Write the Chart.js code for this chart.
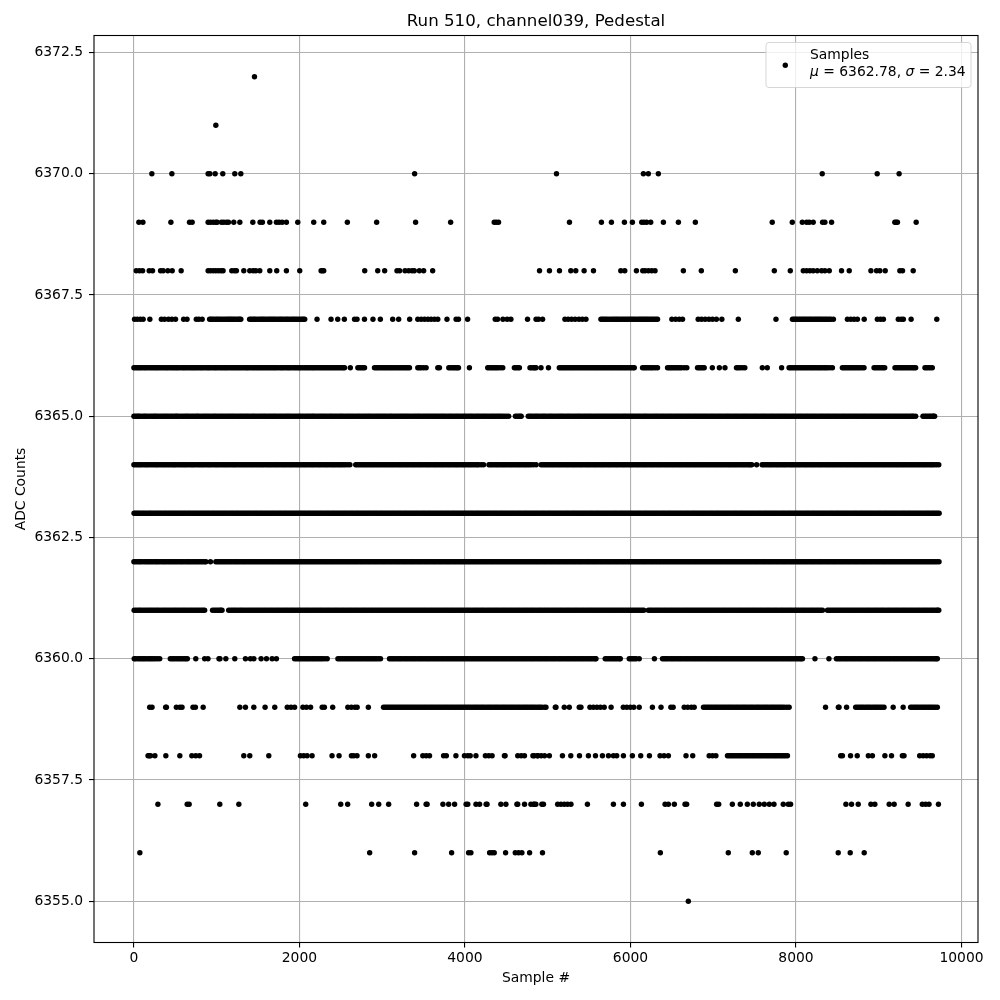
<!DOCTYPE html>
<html><head><meta charset="utf-8">
<style>html,body{margin:0;padding:0;background:#fff}canvas{display:block}</style>
<script src="https://cdn.jsdelivr.net/npm/chart.js@4/dist/chart.umd.js"></script>
</head><body><canvas id="c" width="1000" height="1000"></canvas>
<script>
const titleText = 'Run 510, channel039, Pedestal';
const xTitle = 'Sample #';
const yTitle = 'ADC Counts';
const legendName = 'Samples';
const xTicks = [0,2000,4000,6000,8000,10000];
const yTicks = [6355,6357.5,6360,6362.5,6365,6367.5,6370,6372.5];
const r72 = [1457];
const r71 = [990];
const r70 = [217,459,897,918,982,1074,1219,1292,3392,5106,6156,6216,6337,8317,8981,9246];
const r69 = [60,109,447,672,704,897,925,958,990,1006,1058,1086,1119,1143,1207,1280,1437,1525,1553,1642,1722,1754,1791,1843,1980,2173,2294,2579,2933,3404,3827,4354,4378,4406,5263,5649,5770,5927,6023,6136,6164,6196,6245,6398,6579,6784,7713,7955,8076,8128,8160,8208,8321,8349,8430,9194,9210,9226,9452];
const r68 = [28,68,105,185,225,322,354,410,463,571,897,925,958,990,1022,1054,1078,1183,1215,1239,1328,1400,1441,1473,1521,1642,1726,1843,2004,2262,2278,2294,2789,2946,3030,3179,3211,3276,3320,3360,3388,3449,3501,3610,4901,5021,5142,5279,5339,5440,5553,5883,5931,6072,6148,6176,6216,6257,6297,6639,6856,7267,7738,7931,8088,8128,8168,8208,8257,8309,8349,8402,8550,8643,8905,8973,9013,9078,9255,9287,9416];
const r67 = [8,41,78,112,193,332,371,418,459,503,601,642,754,785,825,915,948,991,1027,1068,1112,1149,1183,1221,1262,1292,1398,1437,1472,1516,1553,1592,1634,1671,1708,1752,1789,1831,1868,1912,1949,1991,2032,2064,2213,2382,2463,2543,2666,2696,2786,2889,2978,3127,3199,3332,3430,3471,3512,3553,3591,3632,3672,3783,3893,3922,4032,4366,4394,4459,4510,4555,4756,4859,4889,4938,5208,5247,5289,5331,5378,5419,5462,5643,5682,5721,5768,5809,5846,5888,5931,5972,6011,6052,6096,6133,6171,6208,6249,6288,6327,6500,6546,6589,6629,6818,6859,6902,6948,6991,7038,7104,7303,7758,7957,7992,8033,8071,8109,8148,8186,8227,8264,8302,8343,8381,8422,8452,8621,8662,8702,8742,8824,8983,9021,9056,9236,9271,9297,9391,9701];
const r67b = [931,969,1009,1048,1090,1131,1166,1202,1241,1277,1417,1454,1494,1535,1572,1613,1652,1690,1730,1770,1810,1850,1890,1930,1970,2012,2048,5662,5702,5745,5789,5828,5867,5910,5952,5992,6032,6074,6115,6152,6190,6229,6268,6308,7975,8012,8052,8090,8128,8167,8206,8245,8283,8322,8362,8402];
const r66 = [0,41,79,124,163,208,251,289,332,378,417,462,503,541,588,627,672,714,753,798,836,883,921,968,1006,1052,1093,1131,1176,1218,1259,1301,1346,1383,1429,1471,1512,1554,1597,1639,1682,1721,1768,1807,1853,1891,1937,1979,2018,2064,2106,2149,2187,2232,2274,2316,2359,2401,2443,2487,2528,2545,2615,2706,2747,2787,2907,2948,2992,3034,3076,3118,3161,3204,3247,3289,3330,3430,3472,3531,3672,3692,3805,3848,3889,3922,4054,4275,4318,4361,4402,4457,4597,4640,4658,4786,4828,4859,4919,5009,5140,5183,5224,5268,5309,5352,5394,5437,5479,5522,5564,5606,5648,5691,5733,5776,5818,5861,5903,5945,5988,6030,6046,6146,6188,6231,6273,6327,6448,6490,6533,6576,6618,6681,6810,6851,6891,6989,7074,7142,7281,7324,7382,7593,7653,7826,7916,7958,8001,8043,8086,8128,8171,8213,8256,8298,8341,8383,8440,8560,8602,8645,8688,8731,8774,8822,8943,8987,9030,9072,9196,9239,9281,9324,9367,9410,9446,9558,9601,9647];
const r66b = [20,60,101,143,186,229,270,310,355,397,440,482,522,565,607,650,693,733,775,817,860,902,945,987,1029,1072,1112,1154,1197,1238,1280,1324,1365,1406,1450,1491,1533,1575,1618,1660,1701,1744,1787,1830,1872,1914,1958,1998,2041,2085,2127,2168,2210,2253,2295,2337,2380,2422,2465,2508,2727,2767,2928,2970,3013,3055,3097,3139,3182,3225,3268,3310,3451,3501,3825,3868,3905,4296,4339,4381,4430,4618,4807,4843,5161,5203,5246,5288,5330,5373,5415,5458,5500,5543,5585,5627,5670,5712,5754,5797,5840,5882,5924,5966,6009,6167,6209,6252,6300,6469,6511,6554,6597,6650,6830,6871,7302,7353,7937,7980,8022,8064,8107,8149,8192,8234,8277,8319,8362,8411,8581,8623,8666,8709,8752,8798,8965,9008,9051,9217,9260,9302,9345,9388,9428,9579,9624];
const r65 = [0,38,71,118,154,201,243,279,327,368,409,452,497,531,578,622,659,704,748,783,829,871,912,958,996,1041,1083,1127,1169,1208,1253,1296,1338,1379,1424,1462,1509,1551,1592,1637,1679,1718,1764,1806,1849,1887,1933,1978,2017,2061,2104,2146,2183,2229,2271,2312,2358,2397,2441,2486,2523,2569,2611,2652,2698,2737,2782,2824,2863,2908,2951,2993,3034,3079,3118,3163,3207,3248,3289,3331,3376,3418,3457,3502,3544,3586,3627,3671,3713,3752,3798,3839,3883,3924,3968,4009,4052,4093,4137,4178,4221,4263,4306,4349,4391,4432,4476,4528,4610,4650,4680,4765,4804,4849,4888,4933,4972,5018,5057,5103,5146,5184,5229,5268,5313,5357,5396,5441,5483,5522,5568,5609,5651,5693,5736,5778,5821,5862,5907,5946,5991,6031,6074,6116,6161,6199,6244,6287,6328,6372,6413,6456,6497,6541,6583,6624,6668,6709,6753,6794,6838,6879,6922,6966,7007,7051,7092,7136,7177,7219,7263,7304,7348,7389,7432,7476,7517,7561,7602,7644,7688,7729,7773,7814,7857,7899,7943,7984,8028,8069,8112,8154,8197,8239,8283,8324,8367,8409,8452,8494,8538,8579,8622,8664,8707,8749,8793,8834,8877,8919,8962,9004,9048,9089,9132,9174,9217,9259,9303,9344,9387,9420,9446,9534,9573,9612,9650,9675];
const r65b = [19,55,95,136,178,222,261,303,348,389,431,474,514,555,600,641,682,726,766,806,850,892,935,977,1019,1062,1105,1148,1189,1231,1275,1317,1359,1401,1443,1486,1530,1572,1615,1658,1698,1741,1785,1828,1868,1910,1956,1998,2039,2083,2125,2165,2206,2250,2292,2335,2378,2419,2464,2505,2546,2590,2632,2675,2718,2760,2803,2844,2886,2930,2972,3014,3057,3099,3141,3185,3228,3269,3310,3354,3397,3438,3480,3523,3565,3607,3649,3692,3733,3775,3819,3861,3904,3946,3989,4031,4073,4115,4158,4200,4242,4285,4328,4370,4412,4454,4502,4630,4665,4785,4827,4869,4911,4953,4995,5038,5080,5125,5165,5207,5249,5291,5335,5377,5419,5462,5503,5545,5589,5630,5672,5715,5757,5800,5842,5885,5927,5969,6012,6053,6095,6139,6180,6222,6266,6308,6350,6392,6435,6477,6519,6562,6604,6646,6689,6731,6774,6816,6859,6901,6944,6986,7029,7072,7114,7157,7198,7241,7284,7326,7369,7410,7454,7497,7539,7582,7623,7666,7709,7751,7794,7836,7878,7921,7964,8006,8049,8090,8133,8176,8218,8261,8304,8346,8388,8431,8473,8516,8559,8601,8643,8686,8728,8771,8814,8856,8898,8941,8983,9026,9069,9111,9153,9196,9238,9281,9324,9366,9404,9555,9593,9631,9662];
const r64 = [0,43,82,129,168,212,257,296,341,383,426,471,509,556,597,638,684,723,769,811,852,897,936,983,1022,1067,1110,1151,1196,1234,1281,1322,1364,1408,1449,1492,1536,1576,1621,1662,1706,1747,1791,1832,1876,1917,1961,2002,2046,2087,2131,2172,2216,2257,2301,2342,2386,2427,2471,2512,2556,2610,2680,2722,2766,2807,2851,2892,2936,2977,3021,3062,3106,3147,3191,3232,3276,3317,3361,3402,3446,3487,3531,3572,3616,3657,3701,3742,3786,3827,3871,3912,3956,3997,4041,4082,4126,4167,4225,4290,4331,4375,4416,4460,4501,4545,4586,4630,4671,4715,4756,4800,4860,4920,4966,5007,5051,5092,5136,5177,5221,5262,5306,5347,5391,5432,5476,5517,5561,5602,5646,5687,5731,5772,5816,5857,5901,5942,5986,6027,6071,6112,6156,6197,6241,6282,6326,6367,6411,6452,6496,6537,6581,6622,6666,6707,6751,6792,6836,6877,6921,6962,7006,7047,7091,7132,7176,7217,7261,7302,7346,7387,7431,7465,7524,7590,7632,7676,7717,7761,7802,7846,7887,7931,7972,8016,8057,8101,8142,8186,8227,8271,8312,8356,8397,8441,8482,8526,8567,8611,8652,8696,8737,8781,8822,8866,8907,8951,8992,9036,9077,9121,9162,9206,9247,9291,9332,9376,9417,9461,9502,9546,9587,9631,9672,9725];
const r64b = [22,63,105,149,190,235,277,319,362,405,449,490,533,577,618,661,704,746,790,832,875,917,960,1003,1045,1089,1131,1174,1215,1258,1302,1343,1386,1429,1471,1514,1556,1599,1642,1684,1727,1769,1812,1854,1897,1939,1982,2024,2067,2109,2152,2194,2237,2279,2322,2364,2407,2449,2492,2534,2583,2700,2744,2787,2829,2872,2914,2957,2999,3042,3084,3127,3169,3212,3254,3297,3339,3382,3424,3467,3509,3552,3594,3637,3679,3722,3764,3807,3849,3892,3934,3977,4019,4062,4104,4147,4196,4310,4353,4395,4438,4480,4523,4565,4608,4650,4693,4735,4778,4828,4943,4986,5029,5071,5114,5156,5199,5241,5284,5326,5369,5411,5454,5496,5539,5581,5624,5666,5709,5751,5794,5836,5879,5921,5964,6006,6049,6091,6134,6176,6219,6261,6304,6346,6389,6431,6474,6516,6559,6601,6644,6686,6729,6771,6814,6856,6899,6941,6984,7026,7069,7111,7154,7196,7239,7281,7324,7366,7409,7448,7610,7654,7696,7739,7781,7824,7866,7909,7951,7994,8036,8079,8121,8164,8206,8249,8291,8334,8376,8419,8461,8504,8546,8589,8631,8674,8716,8759,8801,8844,8886,8929,8971,9014,9056,9099,9141,9184,9226,9269,9311,9354,9396,9439,9481,9524,9566,9609,9651,9698];
const r63 = [2,36,69,107,142,181,214,252,288,323,361,396,433,469,505,542,578,614,651,686,723,759,795,832,868,903,941,976,1012,1049,1085,1121,1158,1193,1231,1266,1302,1339,1375,1411,1448,1483,1521,1556,1592,1629,1665,1701,1738,1773,1811,1846,1882,1919,1955,1991,2028,2063,2101,2136,2172,2209,2245,2281,2318,2353,2391,2426,2462,2499,2535,2571,2608,2643,2681,2716,2752,2789,2825,2861,2898,2933,2971,3006,3042,3079,3115,3151,3188,3223,3261,3296,3332,3369,3405,3441,3478,3513,3551,3586,3622,3659,3695,3731,3768,3803,3841,3876,3912,3949,3985,4021,4058,4093,4131,4166,4202,4239,4275,4311,4348,4383,4421,4456,4492,4529,4565,4601,4638,4673,4711,4746,4782,4819,4855,4891,4928,4963,5001,5036,5072,5109,5145,5181,5218,5253,5291,5326,5362,5399,5435,5471,5508,5543,5581,5616,5652,5689,5725,5761,5798,5833,5871,5906,5942,5979,6015,6051,6088,6123,6161,6196,6232,6269,6305,6341,6378,6413,6451,6486,6522,6559,6595,6631,6668,6703,6741,6776,6812,6849,6885,6921,6958,6993,7031,7066,7102,7139,7175,7211,7248,7283,7321,7356,7392,7429,7465,7501,7538,7573,7611,7646,7682,7719,7755,7791,7828,7863,7901,7936,7972,8009,8045,8081,8118,8153,8191,8226,8262,8299,8335,8371,8408,8443,8481,8516,8552,8589,8625,8661,8698,8733,8771,8806,8842,8879,8915,8951,8988,9023,9061,9096,9132,9169,9205,9241,9278,9313,9351,9386,9422,9459,9495,9531,9568,9603,9641,9676,9712,9730];
const r63b = [18,52,88,124,161,197,233,270,306,342,378,415,451,487,524,560,596,632,669,705,741,777,814,850,886,922,958,994,1031,1067,1103,1139,1176,1212,1248,1284,1321,1357,1393,1430,1466,1502,1538,1574,1611,1647,1683,1720,1756,1792,1828,1864,1901,1937,1973,2010,2046,2082,2118,2154,2191,2227,2263,2300,2336,2372,2408,2444,2481,2517,2553,2590,2626,2662,2698,2734,2771,2807,2843,2880,2916,2952,2988,3024,3061,3097,3133,3170,3206,3242,3278,3314,3351,3387,3423,3460,3496,3532,3568,3604,3641,3677,3713,3750,3786,3822,3858,3894,3931,3967,4003,4040,4076,4112,4148,4184,4221,4257,4293,4330,4366,4402,4438,4474,4511,4547,4583,4620,4656,4692,4728,4764,4801,4837,4873,4910,4946,4982,5018,5054,5091,5127,5163,5200,5236,5272,5308,5344,5381,5417,5453,5490,5526,5562,5598,5634,5671,5707,5743,5780,5816,5852,5888,5924,5961,5997,6033,6070,6106,6142,6178,6214,6251,6287,6323,6360,6396,6432,6468,6504,6541,6577,6613,6650,6686,6722,6758,6794,6831,6867,6903,6940,6976,7012,7048,7084,7121,7157,7193,7230,7266,7302,7338,7374,7411,7447,7483,7520,7556,7592,7628,7664,7701,7737,7773,7810,7846,7882,7918,7954,7991,8027,8063,8100,8136,8172,8208,8244,8281,8317,8353,8390,8426,8462,8498,8534,8571,8607,8643,8680,8716,8752,8788,8824,8861,8897,8933,8970,9006,9042,9078,9114,9151,9187,9223,9260,9296,9332,9368,9404,9441,9477,9513,9550,9586,9622,9658,9694];
const r62 = [0,44,83,131,172,214,259,298,344,385,429,471,513,558,597,643,684,727,769,812,855,925,990,1033,1076,1118,1161,1204,1246,1289,1331,1374,1416,1459,1501,1544,1586,1629,1671,1714,1756,1799,1841,1884,1926,1969,2011,2054,2096,2139,2181,2224,2266,2309,2351,2394,2436,2479,2521,2564,2606,2649,2691,2734,2776,2819,2861,2904,2946,2989,3031,3074,3116,3159,3201,3244,3286,3329,3371,3414,3456,3499,3541,3584,3626,3669,3711,3754,3796,3839,3881,3924,3966,4009,4051,4094,4136,4179,4221,4264,4306,4349,4391,4434,4476,4519,4561,4604,4646,4689,4731,4774,4816,4859,4901,4944,4986,5029,5071,5114,5156,5199,5241,5284,5326,5369,5411,5454,5496,5539,5581,5624,5666,5709,5751,5794,5836,5879,5921,5964,6006,6049,6091,6134,6176,6219,6261,6304,6346,6389,6431,6474,6516,6559,6601,6644,6686,6729,6771,6814,6856,6899,6941,6984,7026,7069,7111,7154,7196,7239,7281,7324,7366,7409,7451,7494,7536,7579,7621,7664,7706,7749,7791,7834,7876,7919,7961,8004,8046,8089,8131,8174,8216,8259,8301,8344,8386,8429,8471,8514,8556,8599,8641,8684,8726,8769,8811,8854,8896,8939,8981,9024,9066,9109,9151,9194,9236,9279,9321,9364,9406,9449,9491,9534,9576,9619,9661,9704,9728];
const r62b = [22,64,107,151,193,236,278,321,364,407,449,492,534,577,620,663,705,748,790,833,870,1011,1054,1097,1139,1182,1225,1267,1310,1352,1395,1437,1480,1522,1565,1607,1650,1692,1735,1777,1820,1862,1905,1947,1990,2032,2075,2117,2160,2202,2245,2287,2330,2372,2415,2457,2500,2542,2585,2627,2670,2712,2755,2797,2840,2882,2925,2967,3010,3052,3095,3137,3180,3222,3265,3307,3350,3392,3435,3477,3520,3562,3605,3647,3690,3732,3775,3817,3860,3902,3945,3987,4030,4072,4115,4157,4200,4242,4285,4327,4370,4412,4455,4497,4540,4582,4625,4667,4710,4752,4795,4837,4880,4922,4965,5007,5050,5092,5135,5177,5220,5262,5305,5347,5390,5432,5475,5517,5560,5602,5645,5687,5730,5772,5815,5857,5900,5942,5985,6027,6070,6112,6155,6197,6240,6282,6325,6367,6410,6452,6495,6537,6580,6622,6665,6707,6750,6792,6835,6877,6920,6962,7005,7047,7090,7132,7175,7217,7260,7302,7345,7387,7430,7472,7515,7557,7600,7642,7685,7727,7770,7812,7855,7897,7940,7982,8025,8067,8110,8152,8195,8237,8280,8322,8365,8407,8450,8492,8535,8577,8620,8662,8705,8747,8790,8832,8875,8917,8960,9002,9045,9087,9130,9172,9215,9257,9300,9342,9385,9427,9470,9512,9555,9597,9640,9682];
const r61 = [3,47,86,133,176,218,261,302,348,389,433,476,518,561,604,646,689,731,774,816,855,950,993,1035,1065,1145,1188,1229,1273,1314,1358,1401,1442,1486,1527,1571,1613,1656,1698,1741,1783,1826,1868,1911,1953,1996,2038,2081,2123,2166,2208,2251,2293,2336,2378,2421,2463,2506,2548,2591,2633,2676,2718,2761,2803,2846,2888,2931,2973,3016,3058,3101,3143,3186,3228,3271,3313,3356,3398,3441,3483,3526,3568,3611,3653,3696,3738,3781,3823,3866,3908,3951,3993,4036,4078,4121,4163,4206,4248,4291,4333,4376,4418,4461,4503,4546,4588,4631,4673,4716,4758,4801,4843,4886,4928,4971,5013,5056,5098,5141,5183,5226,5268,5311,5353,5396,5438,5481,5523,5566,5608,5651,5693,5736,5778,5821,5863,5906,5948,5991,6033,6076,6118,6161,6216,6258,6301,6343,6386,6428,6471,6513,6556,6598,6641,6683,6726,6768,6811,6853,6896,6938,6981,7023,7066,7108,7151,7193,7236,7278,7321,7363,7406,7448,7491,7533,7576,7618,7661,7703,7746,7788,7831,7873,7916,7958,8001,8043,8086,8128,8171,8213,8256,8298,8320,8380,8423,8465,8508,8550,8593,8635,8678,8720,8763,8805,8848,8890,8933,8975,9018,9060,9103,9145,9188,9230,9273,9315,9358,9400,9443,9485,9528,9570,9613,9655,9698,9725];
const r61b = [25,67,110,155,197,240,282,325,368,411,455,497,540,583,625,668,710,753,795,835,972,1014,1050,1167,1209,1251,1294,1336,1380,1422,1464,1507,1549,1592,1635,1677,1720,1762,1805,1847,1890,1932,1975,2017,2060,2102,2145,2187,2230,2272,2315,2357,2400,2442,2485,2527,2570,2612,2655,2697,2740,2782,2825,2867,2910,2952,2995,3037,3080,3122,3165,3207,3250,3292,3335,3377,3420,3462,3505,3547,3590,3632,3675,3717,3760,3802,3845,3887,3930,3972,4015,4057,4100,4142,4185,4227,4270,4312,4355,4397,4440,4482,4525,4567,4610,4652,4695,4737,4780,4822,4865,4907,4950,4992,5035,5077,5120,5162,5205,5247,5290,5332,5375,5417,5460,5502,5545,5587,5630,5672,5715,5757,5800,5842,5885,5927,5970,6012,6055,6097,6140,6238,6280,6322,6365,6407,6450,6492,6535,6577,6620,6662,6705,6747,6790,6832,6875,6917,6960,7002,7045,7087,7130,7172,7215,7257,7300,7342,7385,7427,7470,7512,7555,7597,7640,7682,7725,7767,7810,7852,7895,7937,7980,8022,8065,8107,8150,8192,8235,8277,8400,8444,8486,8529,8571,8614,8656,8699,8741,8784,8826,8869,8911,8954,8996,9039,9081,9124,9166,9209,9251,9294,9336,9379,9421,9464,9506,9549,9591,9634,9676,9712];
const r60 = [4,46,89,131,174,216,259,312,440,482,525,567,610,646,748,855,895,1028,1040,1111,1219,1348,1408,1449,1537,1602,1670,1722,1941,1984,2026,2069,2111,2154,2196,2239,2281,2336,2465,2507,2550,2592,2635,2677,2720,2762,2805,2847,2890,2932,2980,3088,3130,3173,3215,3258,3300,3343,3385,3428,3470,3513,3555,3598,3640,3683,3725,3768,3810,3853,3895,3938,3980,4023,4065,4108,4150,4193,4235,4278,4320,4363,4405,4448,4490,4533,4575,4618,4660,4703,4745,4788,4830,4873,4915,4958,5000,5043,5085,5128,5170,5213,5255,5298,5340,5383,5425,5468,5510,5553,5583,5695,5737,5780,5822,5865,5877,5985,6027,6070,6106,6289,6387,6429,6472,6514,6557,6599,6642,6684,6727,6769,6812,6854,6897,6939,6982,7024,7067,7109,7152,7194,7237,7279,7322,7364,7407,7449,7492,7534,7577,7619,7662,7704,7747,7789,7832,7874,7917,7959,8002,8044,8078,8229,8398,8488,8530,8573,8615,8658,8700,8743,8785,8828,8870,8913,8955,8998,9040,9083,9125,9168,9210,9253,9295,9338,9380,9423,9465,9508,9550,9593,9635,9678,9708];
const r60b = [20,67,110,152,195,237,285,461,503,546,588,628,1962,2005,2047,2090,2132,2175,2217,2260,2308,2486,2528,2571,2613,2656,2698,2741,2783,2826,2868,2911,2956,3109,3151,3194,3236,3279,3321,3364,3406,3449,3491,3534,3576,3619,3661,3704,3746,3789,3831,3874,3916,3959,4001,4044,4086,4129,4171,4214,4256,4299,4341,4384,4426,4469,4511,4554,4596,4639,4681,4724,4766,4809,4851,4894,4936,4979,5021,5064,5106,5149,5191,5234,5276,5319,5361,5404,5446,5489,5531,5574,5716,5758,5801,5843,6006,6048,6408,6450,6493,6535,6578,6620,6663,6705,6748,6790,6833,6875,6918,6960,7003,7045,7088,7130,7173,7215,7258,7300,7343,7385,7428,7470,7513,7555,7598,7640,7683,7725,7768,7810,7853,7895,7938,7980,8023,8060,8509,8551,8594,8636,8679,8721,8764,8806,8849,8891,8934,8976,9019,9061,9104,9146,9189,9231,9274,9316,9359,9401,9444,9486,9529,9571,9614,9656,9693];
const r59 = [191,219,384,393,513,556,582,714,743,837,1280,1348,1449,1585,1702,1853,1898,1942,2042,2085,2135,2275,2302,2402,2585,2628,2671,2698,2833,3016,3058,3101,3143,3186,3228,3271,3313,3356,3398,3441,3483,3526,3568,3611,3653,3696,3738,3781,3823,3866,3908,3951,3993,4036,4078,4121,4163,4206,4248,4291,4333,4376,4418,4461,4503,4546,4588,4631,4673,4716,4758,4801,4843,4886,4928,4979,5092,5100,5200,5261,5381,5402,5510,5552,5595,5637,5683,5766,5913,5955,5998,6040,6106,6265,6369,6488,6516,6649,6692,6735,6770,6882,6925,6967,7010,7052,7095,7137,7180,7222,7265,7307,7350,7392,7435,7477,7520,7562,7605,7647,7690,7732,7775,7817,7860,7917,8357,8512,8520,8611,8721,8764,8806,8849,8891,8934,8976,9019,9064,9174,9295,9385,9428,9470,9513,9555,9598,9640,9683,9708];
const r59b = [3037,3080,3122,3165,3207,3250,3292,3335,3377,3420,3462,3505,3547,3590,3632,3675,3717,3760,3802,3845,3887,3930,3972,4015,4057,4100,4142,4185,4227,4270,4312,4355,4397,4440,4482,4525,4567,4610,4652,4695,4737,4780,4822,4865,4907,4958,6903,6946,6988,7031,7073,7116,7158,7201,7243,7286,7328,7371,7413,7456,7498,7541,7583,7626,7668,7711,7753,7796,7838,7890,8742,8785,8827,8870,8912,8955,8997,9040,9406,9449,9491,9534,9576,9619,9662];
const r58 = [171,186,201,254,386,555,700,748,793,1328,1400,1630,2012,2052,2093,2153,2394,2479,2628,2656,2696,2833,2909,3380,3491,3532,3572,3742,3775,3891,3994,4034,4064,4133,4247,4288,4328,4477,4485,4638,4680,4719,4821,4877,4838,4880,4921,4962,5020,5178,5279,5384,5492,5577,5661,5734,5794,5834,5915,6023,6124,6229,6357,6406,6458,6671,6752,6951,6992,7032,7172,7215,7257,7300,7342,7385,7427,7470,7512,7555,7597,7640,7682,7725,7767,7810,7852,7897,8540,8561,8659,8740,8874,8923,9074,9154,9305,9285,9494,9536,9578,9620,9647];
const r58b = [7193,7236,7278,7321,7363,7406,7448,7491,7533,7576,7618,7661,7703,7746,7788,7831,7873];
const r57 = [290,644,668,1038,1268,2076,2499,2583,2873,2958,3078,3416,3543,3531,3734,3803,3875,4034,4014,4133,4177,4267,4256,4434,4495,4638,4628,4720,4797,4857,4838,4830,4929,4949,5120,5160,5200,5240,5281,5480,5794,5915,6132,6418,6458,6530,6659,6679,7041,7066,7231,7327,7412,7484,7556,7617,7677,7734,7846,7907,7935,8603,8671,8752,8905,8953,9126,9186,9355,9526,9566,9607,9721];
const r56 = [72,2849,3392,3839,4044,4072,4298,4326,4354,4491,4608,4648,4688,4781,4937,6361,7182,7472,7544,7882,8510,8655,8824];
const r55 = [6699];
const levels = [6372,6371,6370,6369,6368,6367,6367,6366,6366,6365,6365,6364,6364,6363,6363,6362,6362,6361,6361,6360,6360,6359,6359,6358,6358,6357,6356,6355];
const rows = [r72,r71,r70,r69,r68,r67,r67b,r66,r66b,r65,r65b,r64,r64b,r63,r63b,r62,r62b,r61,r61b,r60,r60b,r59,r59b,r58,r58b,r57,r56,r55];
const points = rows.flatMap((r,i)=>r.map(x=>({x,y:levels[i]})));

Chart.defaults.font.family = '"DejaVu Sans"';
Chart.defaults.color = '#000';
const FS = 13.89;
const framePlugin = {
  id:'frame',
  afterDraw(chart){
    const {ctx,chartArea:a} = chart;
    ctx.save();
    ctx.beginPath();
    ctx.roundRect(766,42.5,205,45,3);
    ctx.fillStyle='rgba(255,255,255,0.8)';ctx.fill();
    ctx.strokeStyle='rgba(204,204,204,0.8)';ctx.lineWidth=1;ctx.stroke();
    ctx.fillStyle='#000';
    ctx.beginPath();ctx.arc(785.3,65.3,2.7,0,Math.PI*2);ctx.fill();
    ctx.textBaseline='alphabetic';ctx.textAlign='left';
    const n=`${FS}px "DejaVu Sans"`, it=`italic ${FS}px "DejaVu Sans"`;
    ctx.font=n;ctx.fillText(legendName,810,59);
    let x=810;
    for(const [t,f] of [['μ',it],[' = 6362.78, ',n],['σ',it],[' = 2.34',n]]){
      ctx.font=f;ctx.fillText(t,x,76);x+=ctx.measureText(t).width;
    }
    ctx.strokeStyle='#000';ctx.lineWidth=1.1;
    ctx.strokeRect(a.left,a.top,a.right-a.left,a.bottom-a.top);
    ctx.restore();
  }
};
new Chart(document.getElementById('c'),{
  type:'scatter',
  data:{datasets:[{label:legendName,data:points,pointRadius:2.7,pointHoverRadius:2.7,pointBorderWidth:0,backgroundColor:'#000',borderColor:'#000'}]},
  options:{
    responsive:false,animation:false,
    layout:{padding:{left:0,right:22,top:0,bottom:0}},
    plugins:{
      legend:{display:false},tooltip:{enabled:false},
      title:{display:true,text:titleText,fullSize:false,color:'#000',font:{size:16.67,weight:'normal'},padding:{top:12,bottom:3.5}}
    },
    scales:{
      x:{type:'linear',min:-482,max:10199,
        afterBuildTicks(s){s.ticks=xTicks.map(value=>({value}));},
        afterFit(s){s.height=57.5;s.paddingLeft=0;s.paddingRight=0;},
        grid:{color:'#b0b0b0',lineWidth:1.1,tickColor:'#000',tickLength:5,tickWidth:1.1},
        border:{display:false},
        ticks:{font:{size:FS},color:'#000',padding:3,maxRotation:0,autoSkip:false,callback:v=>String(v)},
        title:{display:true,text:xTitle,font:{size:FS},color:'#000',padding:{top:0,bottom:13}}},
      y:{type:'linear',min:6354.15,max:6372.85,
        afterBuildTicks(s){s.ticks=yTicks.map(value=>({value}));},
        afterFit(s){s.width=94;s.paddingTop=0;s.paddingBottom=0;},
        grid:{color:'#b0b0b0',lineWidth:1.1,tickColor:'#000',tickLength:5,tickWidth:1.1},
        border:{display:false},
        ticks:{font:{size:FS},color:'#000',padding:6,autoSkip:false,callback:v=>v.toFixed(1)},
        title:{display:true,text:yTitle,font:{size:FS},color:'#000',padding:{top:13,bottom:0}}}
    }
  },
  plugins:[framePlugin]
});
</script></body></html>
